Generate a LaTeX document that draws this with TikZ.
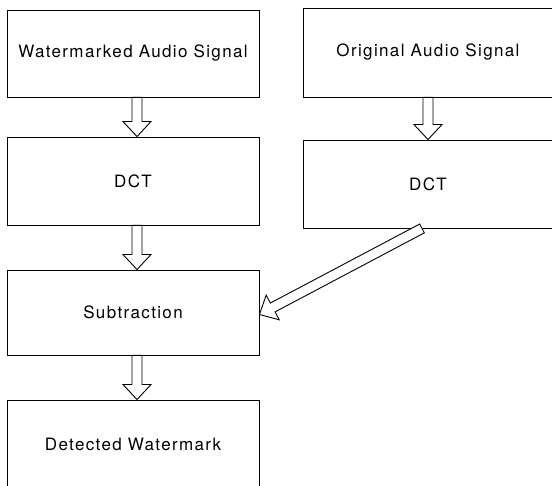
\documentclass[tikz,border=0pt]{standalone}
\usepackage{fontspec}
\setmainfont{TeX Gyre Heros}[LetterSpace=8]
\usepackage{tikz}
\usetikzlibrary{calc}

\tikzset{
  block/.style = {draw, line width = 0.9pt, inner sep = 0pt,
    minimum width = 252pt, minimum height = 88pt,
    font = \fontsize{17}{20}\selectfont},
  % hollow block arrow: shaft 10pt wide, head 28pt wide and 15pt long
  harrow/.style = {line width = 0.9pt, fill = white, to path = {
    let \p1 = ($(\tikztotarget)-(\tikztostart)$),
        \n1 = {veclen(\x1,\y1)}, \n2 = {atan2(\y1,\x1)} in
    (\tikztostart) ++(\n2+90:5pt) -- ++(\n2:\n1-15pt) -- ++(\n2+90:9pt)
    -- (\tikztotarget)
    -- ($(\tikztotarget)+(\n2+180:15pt)+(\n2-90:14pt)$)
    -- ++(\n2+90:9pt) -- ++(\n2+180:\n1-15pt) -- cycle}}
}

\begin{document}
\begin{tikzpicture}[x = 1pt, y = -1pt]
\useasboundingbox (0,0) rectangle (552,486);

% left column
\node[block, minimum height = 87pt] (wsig) at (133,53.5) {Watermarked Audio Signal};
\node[block] (wdct) at (133,181) {DCT};
\node[block, minimum height = 85pt] (sub) at (133,312.5) {Subtraction};
\node[block] (det) at (133,444) {Detected Watermark};

% right column, runs off the right edge
\node[block, minimum width = 256pt, minimum height = 89pt] (osig) at (431,52.5) {};
\node at (428,52.5) [font = \fontsize{17}{20}\selectfont] (otxt) {Original Audio Signal};
\node[block, minimum width = 256pt] (odct) at (431,184) {};
\node at (428,184) [font = \fontsize{17}{20}\selectfont] (dtxt) {DCT};

\draw[harrow] ([xshift = 4pt]wsig.south) to ([xshift = 4pt]wdct.north);
\draw[harrow] ([xshift = 4pt]wdct.south) to ([xshift = 4pt]sub.north);
\draw[harrow] ([xshift = 4pt]sub.south) to ([xshift = 4pt]det.north);
\draw[harrow] ([xshift = -3pt]osig.south) to ([xshift = -3pt]odct.north);
\draw[harrow] ([xshift = -9pt]odct.south) to ([yshift = -2pt]sub.east);
\end{tikzpicture}
\end{document}
